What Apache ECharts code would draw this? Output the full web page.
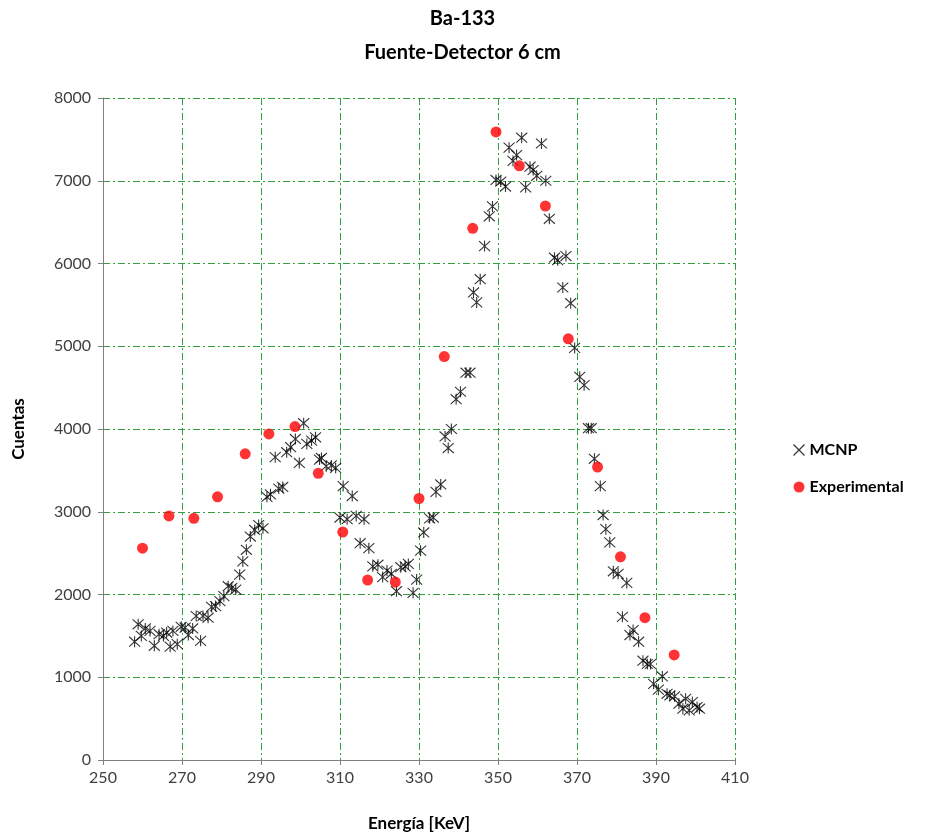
<!DOCTYPE html>
<html>
<head>
<meta charset="utf-8">
<script src="https://cdn.jsdelivr.net/npm/echarts@6/dist/echarts.min.js"></script>
<style>html,body{margin:0;padding:0;background:#fff}#c{width:925px;height:837px}</style>
</head>
<body>
<div id="c"></div>
<script>
const titleLines = ["Ba-133", "Fuente-Detector 6 cm"];
const xTicks = [250, 270, 290, 310, 330, 350, 370, 390, 410];
const yTicks = [0, 1000, 2000, 3000, 4000, 5000, 6000, 7000, 8000];

const mcnpE = [258,258.9,259.7,260.7,261.9,263,264.2,265.3,266.1,267,267.7,268.8,269.8,270.8,271.6,272.7,273.6,274.7,275.3,276.6,277.5,278.5,279.6,280.6,281.7,282.6,283.6,284.6,285.4,286.3,287.3,288.4,289.4,290.5,291.5,292.4,293.6,294.5,295.5,296.5,297.5,298.7,299.7,300.8,301.6,302.8,303.8,304.8,305.3,306.5,307.8,308.9,310,310.8,311.8,313.1,314.1,315.1,316.1,317.3,318.3,319.6,320.8,321.9,323,324.3,325.4,326.5,327.3,328.5,329.4,330.4,331.2,332.7,333.6,334.3,335.5,336.6,337.4,338.2,339.4,340.5,341.9,342.9,343.8,344.6,345.5,346.6,347.8,348.6,349.5,350.7,351.9,352.8,353.8,354.7,356,357,358.1,358.9,359.8,361,362.1,363,364.3,365.1,366.4,367.2,368.4,369.4,370.7,371.8,372.9,373.6,374.4,375.9,376.6,377.3,378.3,379.2,380.4,381.5,382.6,383.4,384.2,385.6,386.7,387.8,388.6,389.4,390.6,391.6,392.8,393.5,394.7,395.8,396.8,397.5,398.4,399.2,400.4,401];
const mcnpC = [1430,1640,1500,1590,1560,1380,1520,1500,1540,1370,1560,1400,1610,1600,1510,1590,1740,1440,1740,1720,1850,1860,1920,1980,2100,2080,2060,2240,2400,2540,2700,2780,2840,2800,3180,3210,3660,3280,3300,3720,3780,3880,3590,4070,3820,3860,3900,3630,3650,3550,3560,3530,2930,3310,2910,3190,2950,2620,2910,2560,2340,2360,2210,2290,2250,2040,2330,2340,2370,2020,2180,2530,2750,2920,2930,3240,3330,3910,3770,4000,4360,4450,4680,4680,5650,5530,5810,6210,6570,6690,7010,6990,6930,7400,7240,7310,7520,6920,7170,7130,7060,7450,7000,6540,6070,6040,5710,6090,5520,4980,4630,4530,4010,4010,3640,3310,2960,2790,2630,2280,2250,1730,2140,1510,1570,1430,1200,1160,1160,920,850,1010,800,780,770,680,620,740,600,700,640,620];

const expE = [260,266.7,273,279,286,292,298.6,304.5,310.7,317,324,330,336.4,343.6,349.5,355.4,362,367.8,375.2,381,387.2,394.6];
const expC = [2560,2950,2920,3180,3700,3940,4030,3465,2755,2175,2150,3160,4875,6425,7590,7180,6695,5090,3540,2455,1720,1270];

const starPath = 'path://M5,0L5,10M0.5,0.5L9.5,9.5M9.5,0.5L0.5,9.5';
const font = 'Lato, "Open Sans", "Liberation Sans", sans-serif';
const gridLine = {show: true, lineStyle: {color: '#33a040', width: 1, type: [7, 3, 2, 3]}};

const chart = echarts.init(document.getElementById('c'));
chart.setOption({
  animation: false,
  backgroundColor: '#fff',
  title: {
    text: titleLines.join('\n'),
    left: 'center', top: -3,
    textStyle: {fontFamily: font, fontSize: 20, fontWeight: 'bold', color: '#000', lineHeight: 34}
  },
  legend: {
    orient: 'vertical', left: 786, top: 437, itemGap: 21,
    itemWidth: 11, itemHeight: 11,
    textStyle: {fontFamily: font, fontSize: 16, fontWeight: 'bold', color: '#000'},
    data: [
      {name: 'MCNP', icon: 'path://M0,0L10,10M10,0L0,10', itemStyle: {color: 'none', borderColor: '#000', borderWidth: 1.2}},
      {name: 'Experimental', icon: 'circle'}
    ]
  },
  grid: {left: 103, right: 190, top: 98, bottom: 77, containLabel: false},
  xAxis: {
    type: 'value', min: xTicks[0], max: xTicks[xTicks.length - 1], interval: 20,
    name: 'Energía [KeV]', nameLocation: 'middle', nameGap: 55,
    nameTextStyle: {fontFamily: font, fontSize: 17, fontWeight: 'bold', color: '#000'},
    axisLine: {show: true, lineStyle: {color: '#808080', width: 1}},
    axisTick: {show: true, length: 5, lineStyle: {color: '#808080'}},
    axisLabel: {fontFamily: font, fontSize: 16, color: '#404040', margin: 10, formatter: v => String(v)},
    splitLine: gridLine
  },
  yAxis: {
    type: 'value', min: yTicks[0], max: yTicks[yTicks.length - 1], interval: 1000,
    name: 'Cuentas', nameLocation: 'middle', nameGap: 76,
    nameTextStyle: {fontFamily: font, fontSize: 17, fontWeight: 'bold', color: '#000'},
    axisLine: {show: true, lineStyle: {color: '#808080', width: 1}},
    axisTick: {show: true, length: 5, lineStyle: {color: '#808080'}},
    axisLabel: {fontFamily: font, fontSize: 16, color: '#404040', margin: 12, formatter: v => String(v)},
    splitLine: gridLine
  },
  series: [
    {
      name: 'MCNP', type: 'scatter', symbol: starPath, symbolSize: 11,
      itemStyle: {color: 'none', borderColor: '#000', borderWidth: 1.1},
      data: mcnpE.map((e, i) => [e, mcnpC[i]]), z: 3
    },
    {
      name: 'Experimental', type: 'scatter', symbol: 'circle', symbolSize: 11,
      itemStyle: {color: '#ff0000'},
      data: expE.map((e, i) => [e, expC[i]]), z: 4
    }
  ]
});
</script>
</body>
</html>
